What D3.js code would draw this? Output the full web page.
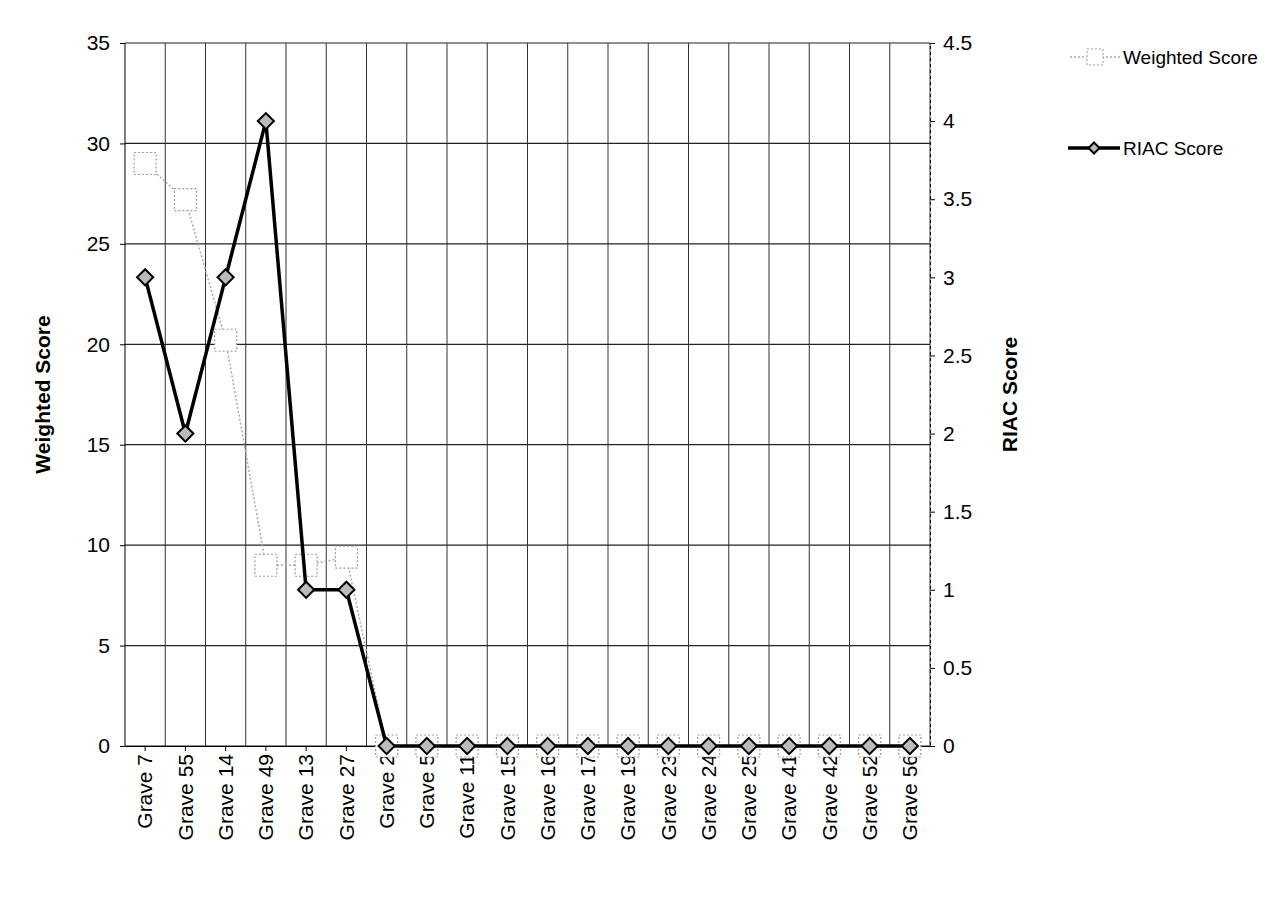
<!DOCTYPE html><html><head><meta charset="utf-8"><script src="https://cdn.jsdelivr.net/npm/d3@7"></script>
<style>body{margin:0;background:#fff}text{font-family:"Liberation Sans",Arial,sans-serif}</style></head><body><svg id="c" width="1266" height="921"></svg>
<script>
const categories=["Grave 7","Grave 55","Grave 14","Grave 49","Grave 13","Grave 27","Grave 2","Grave 5","Grave 11","Grave 15","Grave 16","Grave 17","Grave 19","Grave 23","Grave 24","Grave 25","Grave 41","Grave 42","Grave 52","Grave 56"];
const weighted=[29,27.2,20.2,9,9,9.4,0,0,0,0,0,0,0,0,0,0,0,0,0,0];
const riac=[3,2,3,4,1,1,0,0,0,0,0,0,0,0,0,0,0,0,0,0];
const leftTicks=[0,5,10,15,20,25,30,35];
const rightTicks=[0,0.5,1,1.5,2,2.5,3,3.5,4,4.5];
const svg=d3.select("#c");
const L=125,R=930,T=43,B=746;
const x=d3.scaleBand().domain(categories).range([L,R]);
const yL=d3.scaleLinear().domain([0,35]).range([B,T]);
const yR=d3.scaleLinear().domain([0,4.5]).range([B,T]);
const g=svg.append("g");
g.selectAll(".hg").data(leftTicks).join("line").attr("x1",L).attr("x2",R).attr("y1",d=>yL(d)).attr("y2",d=>yL(d)).attr("stroke","#222").attr("stroke-width",1.2);
g.selectAll(".vg").data(categories).join("line").attr("x1",d=>x(d)+x.bandwidth()).attr("x2",d=>x(d)+x.bandwidth()).attr("y1",T).attr("y2",B).attr("stroke","#333").attr("stroke-width",1);
g.append("line").attr("x1",L).attr("x2",L).attr("y1",T).attr("y2",B).attr("stroke","#000");
const ax=svg.append("g").attr("transform",`translate(0,${B})`).call(d3.axisBottom(x).tickSize(5).tickSizeOuter(0));
ax.selectAll("text").attr("transform","rotate(-90)").attr("text-anchor","end").attr("dx","-8").attr("dy","0.35em").attr("x",0).attr("y",0).style("font-size","21px").attr("fill","#000");
ax.select(".domain").attr("stroke","#000");
const al=svg.append("g").attr("transform",`translate(${L},0)`).call(d3.axisLeft(yL).tickValues(leftTicks).tickSize(5).tickPadding(10));
al.selectAll("text").style("font-size","21px").attr("fill","#000");
const ar=svg.append("g").attr("transform",`translate(${R},0)`).call(d3.axisRight(yR).tickValues(rightTicks).tickSize(5).tickPadding(8).tickFormat(d3.format("")));
ar.selectAll("text").style("font-size","21px").attr("fill","#000");
al.select(".domain").remove();
ar.select(".domain").attr("stroke","#000").attr("stroke-dasharray","3,3");
svg.append("text").attr("transform",`translate(50,${(T+B)/2}) rotate(-90)`).attr("text-anchor","middle").style("font-size","21px").style("font-weight","bold").text("Weighted Score");
svg.append("text").attr("transform",`translate(1017,${(T+B)/2}) rotate(-90)`).attr("text-anchor","middle").style("font-size","21px").style("font-weight","bold").text("RIAC Score");
const cx=d=>x(d)+x.bandwidth()/2;
const lw=d3.line().x((d,i)=>cx(categories[i])).y(d=>yL(d));
svg.append("path").attr("d",lw(weighted)).attr("fill","none").attr("stroke","#aaa").attr("stroke-width",1.5).attr("stroke-dasharray","2,2");
svg.selectAll(".sq").data(weighted).join("rect").attr("x",(d,i)=>cx(categories[i])-11).attr("y",d=>yL(d)-11).attr("width",22).attr("height",22).attr("fill","#fff").attr("stroke","#999").attr("stroke-width",1.2).attr("stroke-dasharray","2,2");
const lr=d3.line().x((d,i)=>cx(categories[i])).y(d=>yR(d));
svg.append("path").attr("d",lr(riac)).attr("fill","none").attr("stroke","#000").attr("stroke-width",3.5);
const dia=d3.symbol().type(d3.symbolSquare).size(130);
svg.selectAll(".dm").data(riac).join("path").attr("d",dia).attr("transform",(d,i)=>`translate(${cx(categories[i])},${yR(d)}) rotate(45)`).attr("fill","#bbb").attr("stroke","#000").attr("stroke-width",2);
const lg=svg.append("g");
lg.append("line").attr("x1",1070).attr("x2",1120).attr("y1",57).attr("y2",57).attr("stroke","#aaa").attr("stroke-width",1.5).attr("stroke-dasharray","2,2");
lg.append("rect").attr("x",1087).attr("y",49).attr("width",16).attr("height",16).attr("fill","#fff").attr("stroke","#999").attr("stroke-dasharray","2,2");
lg.append("text").attr("x",1123).attr("y",64).style("font-size","19px").text("Weighted Score");
lg.append("line").attr("x1",1068).attr("x2",1120).attr("y1",148).attr("y2",148).attr("stroke","#000").attr("stroke-width",3.5);
lg.append("path").attr("d",d3.symbol().type(d3.symbolSquare).size(60)).attr("transform","translate(1094,148) rotate(45)").attr("fill","#bbb").attr("stroke","#000").attr("stroke-width",2);
lg.append("text").attr("x",1123).attr("y",155).style("font-size","19px").text("RIAC Score");
</script></body></html>
